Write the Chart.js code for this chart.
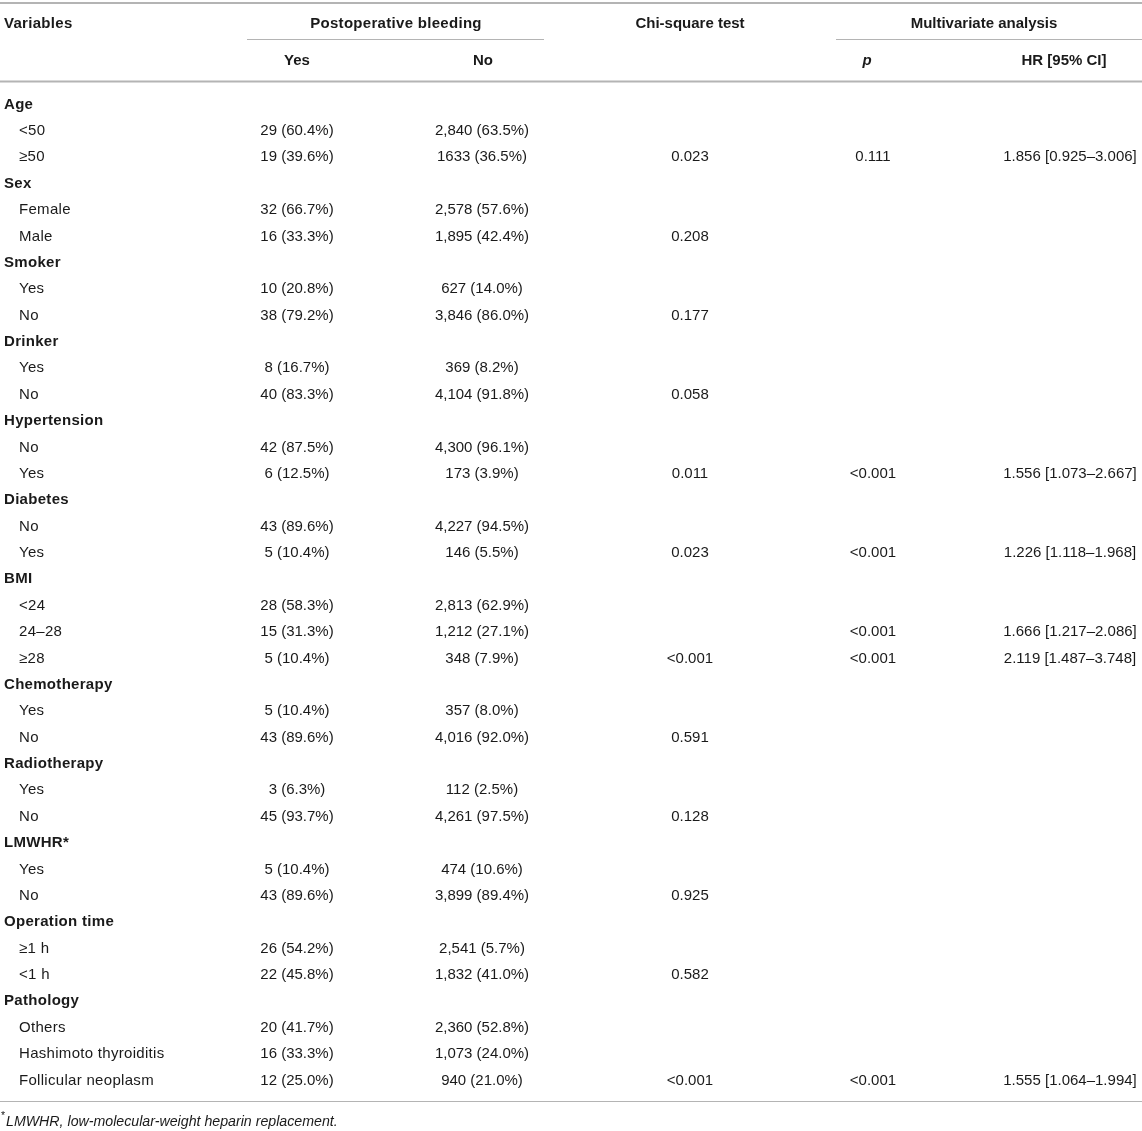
<!DOCTYPE html>
<html>
<head>
<meta charset="utf-8">
<script src="https://cdn.jsdelivr.net/npm/chart.js@4"></script>
<style>
  html, body { margin: 0; padding: 0; background: #ffffff; }
  #wrap { width: 1142px; height: 1131px; }
</style>
</head>
<body>
<div id="wrap"><canvas id="c" width="1142" height="1131"></canvas></div>
<script>
// ---------- DATA ----------
const headerTop = ['Variables', 'Postoperative bleeding', 'Chi-square test', 'Multivariate analysis'];
const headerSub = ['Yes', 'No', 'p', 'HR [95% CI]'];

const rowLabels = [
  'Age', '<50', '\u226550',
  'Sex', 'Female', 'Male',
  'Smoker', 'Yes', 'No',
  'Drinker', 'Yes', 'No',
  'Hypertension', 'No', 'Yes',
  'Diabetes', 'No', 'Yes',
  'BMI', '<24', '24\u201328', '\u226528',
  'Chemotherapy', 'Yes', 'No',
  'Radiotherapy', 'Yes', 'No',
  'LMWHR*', 'Yes', 'No',
  'Operation time', '\u22651 h', '<1 h',
  'Pathology', 'Others', 'Hashimoto thyroiditis', 'Follicular neoplasm'
];
const groupRows = [0, 3, 6, 9, 12, 15, 18, 22, 25, 28, 31, 34];

const yesValues = [
  '', '29 (60.4%)', '19 (39.6%)',
  '', '32 (66.7%)', '16 (33.3%)',
  '', '10 (20.8%)', '38 (79.2%)',
  '', '8 (16.7%)', '40 (83.3%)',
  '', '42 (87.5%)', '6 (12.5%)',
  '', '43 (89.6%)', '5 (10.4%)',
  '', '28 (58.3%)', '15 (31.3%)', '5 (10.4%)',
  '', '5 (10.4%)', '43 (89.6%)',
  '', '3 (6.3%)', '45 (93.7%)',
  '', '5 (10.4%)', '43 (89.6%)',
  '', '26 (54.2%)', '22 (45.8%)',
  '', '20 (41.7%)', '16 (33.3%)', '12 (25.0%)'
];
const noValues = [
  '', '2,840 (63.5%)', '1633 (36.5%)',
  '', '2,578 (57.6%)', '1,895 (42.4%)',
  '', '627 (14.0%)', '3,846 (86.0%)',
  '', '369 (8.2%)', '4,104 (91.8%)',
  '', '4,300 (96.1%)', '173 (3.9%)',
  '', '4,227 (94.5%)', '146 (5.5%)',
  '', '2,813 (62.9%)', '1,212 (27.1%)', '348 (7.9%)',
  '', '357 (8.0%)', '4,016 (92.0%)',
  '', '112 (2.5%)', '4,261 (97.5%)',
  '', '474 (10.6%)', '3,899 (89.4%)',
  '', '2,541 (5.7%)', '1,832 (41.0%)',
  '', '2,360 (52.8%)', '1,073 (24.0%)', '940 (21.0%)'
];
const chiValues = [
  '', '', '0.023',
  '', '', '0.208',
  '', '', '0.177',
  '', '', '0.058',
  '', '', '0.011',
  '', '', '0.023',
  '', '', '', '<0.001',
  '', '', '0.591',
  '', '', '0.128',
  '', '', '0.925',
  '', '', '0.582',
  '', '', '', '<0.001'
];
const pValues = [
  '', '', '0.111',
  '', '', '',
  '', '', '',
  '', '', '',
  '', '', '<0.001',
  '', '', '<0.001',
  '', '', '<0.001', '<0.001',
  '', '', '',
  '', '', '',
  '', '', '',
  '', '', '',
  '', '', '', '<0.001'
];
const hrValues = [
  '', '', '1.856 [0.925\u20133.006]',
  '', '', '',
  '', '', '',
  '', '', '',
  '', '', '1.556 [1.073\u20132.667]',
  '', '', '1.226 [1.118\u20131.968]',
  '', '', '1.666 [1.217\u20132.086]', '2.119 [1.487\u20133.748]',
  '', '', '',
  '', '', '',
  '', '', '',
  '', '', '',
  '', '', '', '1.555 [1.064\u20131.994]'
];
const footnote = 'LMWHR, low-molecular-weight heparin replacement.';

// ---------- LAYOUT (styles / positions, not data) ----------
const FONT = '"Liberation Sans", Arial, Helvetica, sans-serif';
const FS = 15;
const TEXT = '#1a1a1a';
const RULE = '#b4b4b4';
const TEXT_DY = 1.5;               // optical baseline correction
const LABEL_SPACING = '0.3px';
const colAnchor = { var: 4, sub: 19, yes: 297, no: 482, chi: 690, p: 873, hr: 1070 };
const headAnchor = { var: 4, bleed: 396, chi: 690, multi: 984, yes: 297, no: 483, p: 867, hr: 1064 };
const rowStep = 26.378;            // pixels per row unit
const firstRowPx = 103;
const yMin = -firstRowPx / rowStep;
const yMax = yMin + 1131 / rowStep;
const hdr1 = yMin + 22 / rowStep, hdr2 = yMin + 59 / rowStep;
const ruleTop = yMin + 3 / rowStep, ruleSpan = yMin + 39.5 / rowStep, ruleHead = yMin + 81.5 / rowStep;
const ruleBottom = yMin + 1101.5 / rowStep, footY = yMin + 1121 / rowStep;

function colDataset(values, key, align) {
  return {
    label: key,
    data: values.map((v, i) => ({ x: colAnchor[key], y: i })),
    texts: values,
    align: align,
    pointRadius: 0,
    pointHoverRadius: 0
  };
}

const datasets = [
  {
    label: 'var',
    data: rowLabels.map((v, i) => ({ x: groupRows.includes(i) ? colAnchor.var : colAnchor.sub, y: i })),
    texts: rowLabels,
    align: 'left',
    spacing: LABEL_SPACING,
    bold: (i) => groupRows.includes(i),
    pointRadius: 0,
    pointHoverRadius: 0
  },
  colDataset(yesValues, 'yes', 'center'),
  colDataset(noValues, 'no', 'center'),
  colDataset(chiValues, 'chi', 'center'),
  colDataset(pValues, 'p', 'center'),
  colDataset(hrValues, 'hr', 'center')
];

const tablePlugin = {
  id: 'tablePlugin',
  beforeDatasetsDraw(chart) {
    const ctx = chart.ctx, x = chart.scales.x, y = chart.scales.y;
    const hline = (v, x0, x1, w) => {
      const py = y.getPixelForValue(v);
      ctx.save();
      ctx.strokeStyle = RULE;
      ctx.lineWidth = w;
      ctx.beginPath();
      ctx.moveTo(x.getPixelForValue(x0), py);
      ctx.lineTo(x.getPixelForValue(x1), py);
      ctx.stroke();
      ctx.restore();
    };
    hline(ruleTop, 0, 1142, 2);
    hline(ruleSpan, 247, 544, 1.2);
    hline(ruleSpan, 836, 1142, 1.2);
    hline(ruleHead, 0, 1142, 2);
    hline(ruleBottom, 0, 1142, 1.2);

    const txt = (s, xv, yv, align, font, spacing) => {
      ctx.save();
      ctx.fillStyle = TEXT;
      ctx.font = font;
      if (spacing && 'letterSpacing' in ctx) ctx.letterSpacing = spacing;
      ctx.textAlign = align;
      ctx.textBaseline = 'middle';
      ctx.fillText(s, x.getPixelForValue(xv), y.getPixelForValue(yv) + TEXT_DY);
      ctx.restore();
    };
    const bold = 'bold ' + FS + 'px ' + FONT;
    txt(headerTop[0], headAnchor.var, hdr1, 'left', bold, LABEL_SPACING);
    txt(headerTop[1], headAnchor.bleed, hdr1, 'center', bold, LABEL_SPACING);
    txt(headerTop[2], headAnchor.chi, hdr1, 'center', bold);
    txt(headerTop[3], headAnchor.multi, hdr1, 'center', bold);
    txt(headerSub[0], headAnchor.yes, hdr2, 'center', bold);
    txt(headerSub[1], headAnchor.no, hdr2, 'center', bold);
    txt(headerSub[2], headAnchor.p, hdr2, 'center', 'italic bold ' + FS + 'px ' + FONT);
    txt(headerSub[3], headAnchor.hr, hdr2, 'center', bold);

    // footnote
    txt('*', 1, footY - 0.25, 'left', (FS * 0.7) + 'px ' + FONT);
    txt(footnote, 6, footY, 'left', 'italic 14.2px ' + FONT);
  },
  afterDatasetsDraw(chart) {
    const ctx = chart.ctx;
    chart.data.datasets.forEach((ds, di) => {
      const meta = chart.getDatasetMeta(di);
      meta.data.forEach((el, i) => {
        const s = ds.texts[i];
        if (!s) return;
        ctx.save();
        ctx.fillStyle = TEXT;
        const isBold = ds.bold ? ds.bold(i) : false;
        ctx.font = (isBold ? 'bold ' : '') + FS + 'px ' + FONT;
        if (ds.spacing && 'letterSpacing' in ctx) ctx.letterSpacing = ds.spacing;
        ctx.textAlign = ds.align;
        ctx.textBaseline = 'middle';
        ctx.fillText(s, el.x, el.y + TEXT_DY);
        ctx.restore();
      });
    });
  }
};

new Chart(document.getElementById('c'), {
  type: 'scatter',
  data: { datasets: datasets },
  options: {
    responsive: false,
    animation: false,
    devicePixelRatio: 1,
    layout: { padding: 0 },
    events: [],
    plugins: { legend: { display: false }, tooltip: { enabled: false } },
    scales: {
      x: { type: 'linear', min: 0, max: 1142, display: false },
      y: { type: 'linear', min: yMin, max: yMax, reverse: true, display: false }
    }
  },
  plugins: [tablePlugin]
});
</script>
</body>
</html>
